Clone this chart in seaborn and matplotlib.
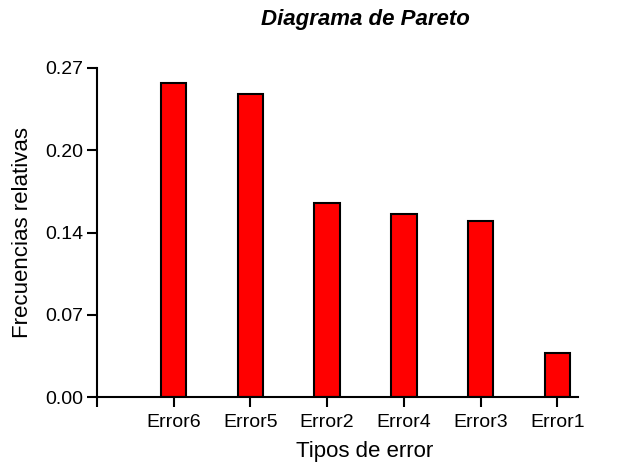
import numpy as np
import matplotlib
matplotlib.use("Agg")
import matplotlib.pyplot as plt
import seaborn as sns
import pandas as pd

# Relative frequency of each error type, sorted for the Pareto chart
categories = ["Error6", "Error5", "Error2", "Error4", "Error3", "Error1"]
rel_freq = [0.2574, 0.2486, 0.1594, 0.1501, 0.1441, 0.0365]
y_tick_labels = ["0.00", "0.07", "0.14", "0.20", "0.27"]
y_max = 0.27

sns.set_style("ticks")
plt.rcParams["font.family"] = ["Liberation Sans", "DejaVu Sans"]
plt.rcParams["text.color"] = "black"
plt.rcParams["axes.labelcolor"] = "black"

df = pd.DataFrame({"tipo": categories, "frecuencia": rel_freq})

fig = plt.figure(figsize=(6.24, 4.66), dpi=100)
ax = fig.add_axes([97 / 624, 1 - 397 / 466, (578 - 97) / 624, (397 - 68) / 466])

sns.barplot(data=df, x="tipo", y="frecuencia", order=categories,
            color="#ff0000", saturation=1, edgecolor="black", linewidth=1.5,
            width=0.33, ax=ax)

ax.set_xlim(-1, len(categories) - 1 + 0.27)
ax.set_ylim(0, y_max)
ax.set_xticks([-1] + list(range(len(categories))))
ax.set_xticklabels([""] + categories, fontsize=14)
ax.set_yticks(np.linspace(0, y_max, len(y_tick_labels)))
ax.set_yticklabels(y_tick_labels, fontsize=14)

for side in ("top", "right"):
    ax.spines[side].set_visible(False)
for side in ("left", "bottom"):
    ax.spines[side].set_linewidth(1.5)
    ax.spines[side].set_color("black")
ax.tick_params(axis="both", length=7, width=1.5, color="black", labelcolor="black")
ax.tick_params(axis="y", pad=3)
ax.tick_params(axis="x", pad=5)

ax.set_xlabel("")
ax.set_ylabel("")
fig.text(23 / 624, 1 - 233 / 466, "Frecuencias relativas", rotation=90,
         ha="center", va="center", fontsize=16, color="black")
fig.text(365 / 624, 1 - 452 / 466, "Tipos de error", ha="center", va="center",
         fontsize=16, color="black")
fig.text(365 / 624, 1 - 20 / 466, "Diagrama de Pareto", ha="center", va="center",
         fontsize=16, fontweight="bold", fontstyle="italic", color="black")

fig.savefig("out.png", dpi=100)
